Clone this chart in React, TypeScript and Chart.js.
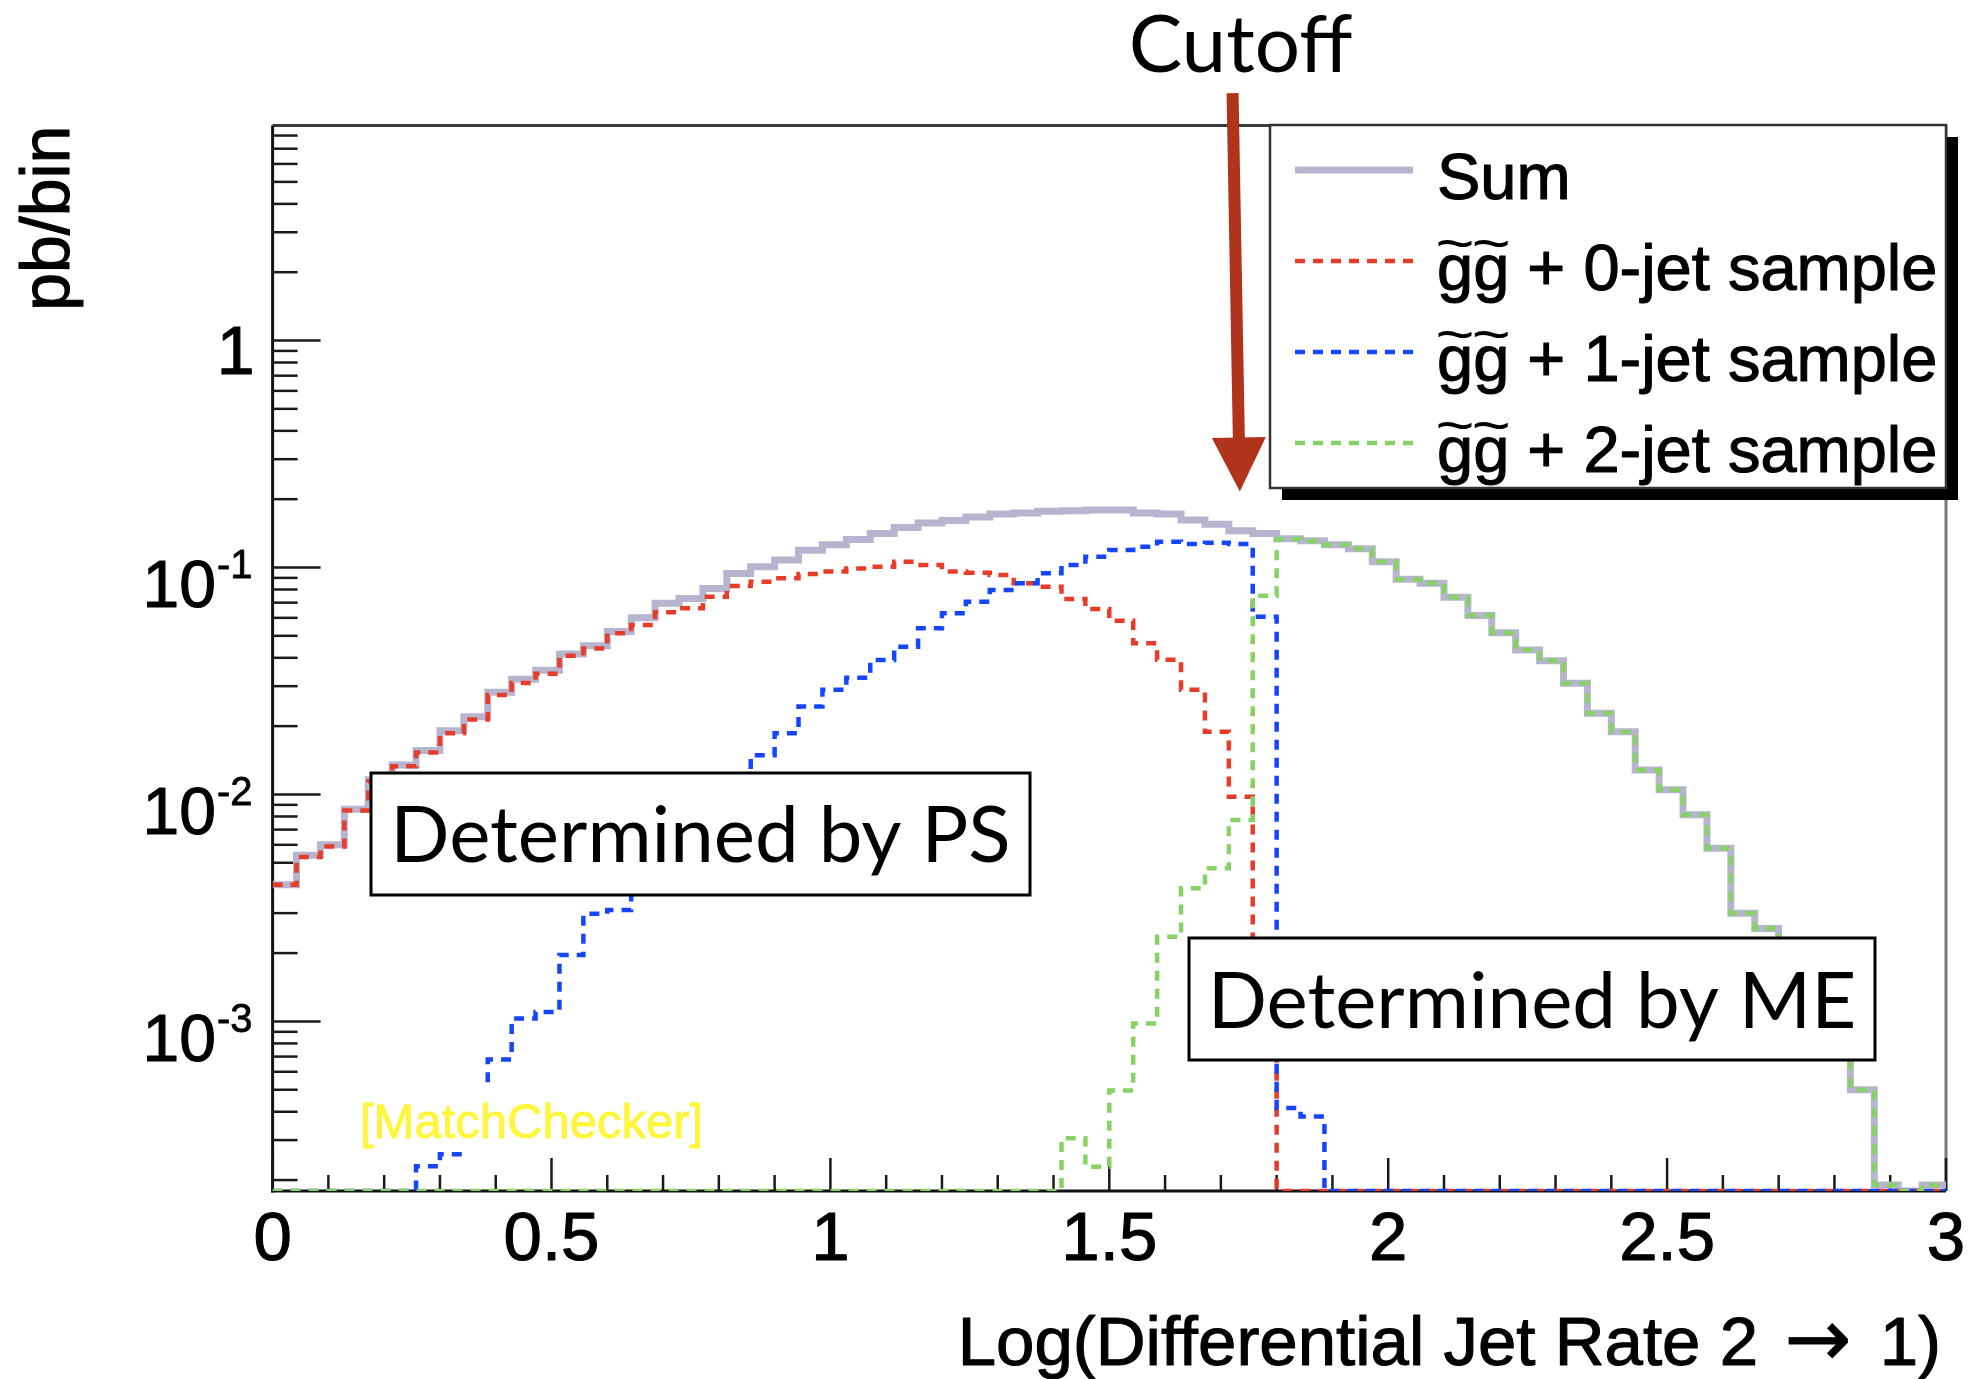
import React, { useEffect, useRef } from 'react';
import { Chart, registerables } from 'chart.js';

Chart.register(...registerables);

// ---------------- data ----------------
const X_MIN = 0;
const X_MAX = 3;
const BIN_COUNT = 70;
const Y_MIN = 1.79e-4;
const Y_MAX = 8.85;

// bin edges of the histogram (70 equal bins from 0 to 3)
const binEdges: number[] = Array.from({ length: BIN_COUNT + 1 }, (_, i) => X_MIN + (i * (X_MAX - X_MIN)) / BIN_COUNT);

const seriesLabels = ['Sum', 'g\u0303g\u0303 + 0-jet sample', 'g\u0303g\u0303 + 1-jet sample', 'g\u0303g\u0303 + 2-jet sample'];

const sumValues = [
  0.0040, 0.0054, 0.0060, 0.0086, 0.0116, 0.0135, 0.0156, 0.0191, 0.0220, 0.0282,
  0.0322, 0.0353, 0.0416, 0.0452, 0.0522, 0.0601, 0.0695, 0.0731, 0.0809, 0.0942,
  0.1008, 0.108, 0.119, 0.126, 0.133, 0.141, 0.150, 0.157, 0.161, 0.167,
  0.172, 0.174, 0.177, 0.178, 0.179, 0.179, 0.174, 0.172, 0.162, 0.155,
  0.145, 0.141, 0.134, 0.131, 0.126, 0.121, 0.106, 0.0887, 0.0852, 0.0739,
  0.0614, 0.0516, 0.0433, 0.0388, 0.0309, 0.0228, 0.0189, 0.0128, 0.0105, 0.00813,
  0.00579, 0.0030, 0.00257, 0.0019, 0.0013, 0.0009, 0.0005, 0.00019, 0, 0.00019,
];

const jet0Values = [
  0.0040, 0.0053, 0.0059, 0.0085, 0.0114, 0.0133, 0.0153, 0.0186, 0.0214, 0.0274,
  0.0310, 0.0340, 0.0408, 0.0440, 0.0513, 0.0558, 0.0635, 0.0661, 0.0743, 0.0829,
  0.0866, 0.0896, 0.0936, 0.0959, 0.0991, 0.1008, 0.106, 0.1026, 0.0959, 0.0948,
  0.0927, 0.0852, 0.0823, 0.0726, 0.0656, 0.0583, 0.0464, 0.0392, 0.0289, 0.0189,
  0.00977, 0.0012, 0, 0, 0, 0, 0, 0, 0, 0,
  0, 0, 0, 0, 0, 0, 0, 0, 0, 0,
  0, 0, 0, 0, 0, 0, 0, 0, 0, 0,
];

const jet1Values = [
  0, 0, 0, 0, 0, 0, 0.00023, 0.00026, 0.00033, 0.00068,
  0.00103, 0.00110, 0.00196, 0.00298, 0.00310, 0.0042, 0.0058, 0.0075, 0.0095, 0.0120,
  0.0149, 0.0186, 0.0244, 0.0289, 0.0327, 0.0391, 0.0448, 0.054, 0.0629, 0.0707,
  0.0796, 0.0852, 0.0943, 0.1026, 0.1116, 0.1194, 0.1235, 0.130, 0.127, 0.1286,
  0.127, 0.0607, 0.000415, 0.000381, 0, 0, 0, 0, 0, 0,
  0, 0, 0, 0, 0, 0, 0, 0, 0, 0,
  0, 0, 0, 0, 0, 0, 0, 0, 0, 0,
];

const jet2Values = [
  0, 0, 0, 0, 0, 0, 0, 0, 0, 0,
  0, 0, 0, 0, 0, 0, 0, 0, 0, 0,
  0, 0, 0, 0, 0, 0, 0, 0, 0, 0,
  0, 0, 0, 0.000306, 0.000229, 0.000496, 0.00098, 0.00236, 0.00386, 0.00473,
  0.00772, 0.0751, 0.1336, 0.1306, 0.126, 0.121, 0.106, 0.0887, 0.0852, 0.0739,
  0.0614, 0.0516, 0.0433, 0.0388, 0.0309, 0.0228, 0.0189, 0.0128, 0.0105, 0.00813,
  0.00579, 0.0030, 0.00257, 0.0019, 0.0013, 0.0009, 0.0005, 0.00019, 0, 0.00019,
];

const xTickValues = [0, 0.5, 1, 1.5, 2, 2.5, 3];
const xTickLabels = ['0', '0.5', '1', '1.5', '2', '2.5', '3'];
const yTickValues = [0.001, 0.01, 0.1, 1];
const yTickBases = ['10', '10', '10', '1'];
const yTickExponents = ['-3', '-2', '-1', ''];

const xTitleParts = ['Log(Differential Jet Rate 2', '\u2192', '1)'];
const yTitle = 'pb/bin';
const cutoffLabel = 'Cutoff';
const psLabel = 'Determined by PS';
const meLabel = 'Determined by ME';
const checkerLabel = '[MatchChecker]';

// cutoff arrow in data coordinates
const arrowTop = { x: 1.721, y: 12.3 };
const arrowTip = { x: 1.734, y: 0.216 };

// ---------------- styles ----------------
const SUM_COLOR = '#B6B4CE';
const RED = '#E63C28';
const BLUE = '#1446FF';
const GREEN = '#86D264';
const ARROW_COLOR = '#B0341C';
const DASH = [10, 8];
const AXIS_FONT = '"Liberation Sans", Arial, Helvetica, sans-serif';
const NOTE_FONT = 'Lato, "Open Sans", sans-serif';

const toPoints = (vals: number[]) =>
  binEdges.map((x, i) => {
    const v = vals[Math.min(i, vals.length - 1)];
    return { x, y: v > 0 ? v : Y_MIN };
  });

// helvetica-like text slightly thickened (ROOT raster look)
function boldText(ctx: CanvasRenderingContext2D, s: string, x: number, y: number, w = 1.1) {
  ctx.fillText(s, x, y);
  ctx.save();
  ctx.lineWidth = w;
  ctx.strokeStyle = ctx.fillStyle as string;
  ctx.lineJoin = 'round';
  ctx.strokeText(s, x, y);
  ctx.restore();
}

// text with combining tildes drawn as ROOT-style wide tildes
function tildeText(ctx: CanvasRenderingContext2D, s: string, x: number, y: number) {
  const plain = s.replace(/\u0303/g, '');
  ctx.textAlign = 'left';
  boldText(ctx, plain, x, y);
  let prefix = '';
  for (let i = 0; i < s.length; i++) {
    const ch = s[i];
    if (ch === '\u0303') continue;
    if (s[i + 1] === '\u0303') {
      const x0 = x + ctx.measureText(prefix).width;
      const w = ctx.measureText(ch).width;
      const saved = ctx.font;
      ctx.save();
      ctx.font = `58px ${AXIS_FONT}`;
      ctx.textAlign = 'center';
      ctx.translate(x0 + w / 2, y - 27);
      ctx.scale(1.15, 1);
      ctx.fillText('~', 0, 0);
      ctx.restore();
      ctx.font = saved;
    }
    prefix += ch;
  }
}

const rootStyle = {
  id: 'rootStyle',
  beforeDraw(chart: any) {
    const ctx = chart.ctx;
    ctx.save();
    ctx.fillStyle = '#ffffff';
    ctx.fillRect(0, 0, chart.width, chart.height);
    ctx.restore();
  },
  beforeDatasetsDraw(chart: any) {
    const ctx = chart.ctx;
    const xs = chart.scales.x;
    const ys = chart.scales.y;
    const L = xs.left, R = xs.right, T = ys.top, B = ys.bottom;
    ctx.save();
    ctx.lineWidth = 3;
    ctx.strokeStyle = '#3c3c3c';
    ctx.beginPath(); ctx.moveTo(L, T); ctx.lineTo(R, T); ctx.stroke();
    ctx.strokeStyle = '#7a7a7a';
    ctx.beginPath(); ctx.moveTo(R, T); ctx.lineTo(R, B); ctx.stroke();
    ctx.strokeStyle = '#111';
    ctx.beginPath(); ctx.moveTo(L, T); ctx.lineTo(L, B + 1.5); ctx.stroke();
    ctx.beginPath(); ctx.moveTo(L - 1.5, B); ctx.lineTo(R, B); ctx.stroke();
    ctx.lineWidth = 2.5;
    ctx.strokeStyle = '#1a1a1a';
    for (let i = 0; i <= 30; i++) {
      const px = xs.getPixelForValue(i / 10);
      const major = i % 5 === 0;
      ctx.beginPath();
      ctx.moveTo(px, B);
      ctx.lineTo(px, B - (major ? 33 : 16));
      ctx.stroke();
    }
    for (let d = -4; d <= 0; d++) {
      for (let m = 1; m <= 9; m++) {
        const v = m * Math.pow(10, d);
        if (v < Y_MIN || v > Y_MAX) continue;
        const py = ys.getPixelForValue(v);
        ctx.beginPath();
        ctx.moveTo(L, py);
        ctx.lineTo(L + (m === 1 ? 48 : 25), py);
        ctx.stroke();
      }
    }
    ctx.restore();
  },
  afterDatasetsDraw(chart: any) {
    const ctx = chart.ctx;
    const xs = chart.scales.x;
    const ys = chart.scales.y;
    const L = xs.left, R = xs.right, T = ys.top, B = ys.bottom;
    ctx.save();
    ctx.textBaseline = 'alphabetic';

    // [MatchChecker] label with white pave
    ctx.fillStyle = '#ffffff';
    ctx.fillRect(355, 1088, 352, 63);
    ctx.fillStyle = '#FFF53A';
    ctx.font = `49px ${AXIS_FONT}`;
    ctx.textAlign = 'left';
    boldText(ctx, checkerLabel, 360, 1138, 0.8);

    // annotation boxes
    const box = (x: number, y: number, w: number, h: number, text: string, baseline: number) => {
      ctx.fillStyle = '#ffffff';
      ctx.fillRect(x, y, w, h);
      ctx.lineWidth = 3;
      ctx.strokeStyle = '#000';
      ctx.strokeRect(x, y, w, h);
      ctx.fillStyle = '#000';
      ctx.font = `78px ${NOTE_FONT}`;
      ctx.textAlign = 'center';
      ctx.fillText(text, x + w / 2, baseline);
    };
    box(371, 773, 659, 122, psLabel, 862);
    box(1189, 938, 686, 122, meLabel, 1028);

    // legend
    const lx = 1270, ly = 125, lw = 676, lh = 363;
    ctx.fillStyle = '#000';
    ctx.fillRect(lx + 12, ly + 12, lw, lh);
    ctx.fillStyle = '#fff';
    ctx.fillRect(lx, ly, lw, lh);
    ctx.lineWidth = 2.5;
    ctx.strokeStyle = '#333';
    ctx.strokeRect(lx, ly, lw, lh);
    const rows = [170, 261, 352, 443];
    chart.data.datasets.forEach((ds: any, i: number) => {
      const y = rows[i];
      ctx.save();
      ctx.strokeStyle = ds.borderColor;
      ctx.lineWidth = ds.borderWidth;
      ctx.setLineDash(ds.borderDash || []);
      ctx.beginPath();
      ctx.moveTo(1295, y);
      ctx.lineTo(1413, y);
      ctx.stroke();
      ctx.restore();
      ctx.fillStyle = '#000';
      ctx.font = `65px ${AXIS_FONT}`;
      tildeText(ctx, ds.label, 1437, y + 29);
    });

    // cutoff arrow
    const tx = xs.getPixelForValue(arrowTop.x), ty = ys.getPixelForValue(arrowTop.y);
    const hx = xs.getPixelForValue(arrowTip.x), hy = ys.getPixelForValue(arrowTip.y);
    const headLen = 54, headHalf = 27;
    const dx = hx - tx, dy = hy - ty;
    const len = Math.hypot(dx, dy);
    const ux = dx / len, uy = dy / len;
    const bx = hx - ux * headLen, by = hy - uy * headLen;
    ctx.strokeStyle = ARROW_COLOR;
    ctx.lineWidth = 12;
    ctx.lineCap = 'butt';
    ctx.beginPath();
    ctx.moveTo(tx, ty);
    ctx.lineTo(bx + ux * 4, by + uy * 4);
    ctx.stroke();
    ctx.fillStyle = ARROW_COLOR;
    ctx.beginPath();
    ctx.moveTo(hx, hy);
    ctx.lineTo(bx - uy * headHalf, by + ux * headHalf);
    ctx.lineTo(bx + uy * headHalf, by - ux * headHalf);
    ctx.closePath();
    ctx.fill();
    ctx.fillStyle = '#000';
    ctx.font = `80px ${NOTE_FONT}`;
    ctx.textAlign = 'center';
    ctx.fillText(cutoffLabel, tx + 8, 72);

    // x tick labels
    ctx.fillStyle = '#000';
    ctx.font = `69px ${AXIS_FONT}`;
    ctx.textAlign = 'center';
    xTickValues.forEach((v, i) => {
      boldText(ctx, xTickLabels[i], xs.getPixelForValue(v), B + 69);
    });

    // y tick labels
    const right = L - 20;
    ctx.textAlign = 'right';
    yTickValues.forEach((v, i) => {
      const py = ys.getPixelForValue(v);
      const exp = yTickExponents[i];
      if (exp) {
        ctx.font = `40px ${AXIS_FONT}`;
        const ew = ctx.measureText(exp).width;
        boldText(ctx, exp, right, py + 11, 0.8);
        ctx.font = `66px ${AXIS_FONT}`;
        boldText(ctx, yTickBases[i], right - ew - 1, py + 40);
      } else {
        ctx.font = `68px ${AXIS_FONT}`;
        boldText(ctx, yTickBases[i], right + 2, py + 33);
      }
    });

    // x axis title (right aligned at axis end), with a large arrow
    const base = 1365;
    ctx.textAlign = 'right';
    ctx.font = `69px ${AXIS_FONT}`;
    boldText(ctx, xTitleParts[2], R - 5, base);
    ctx.font = `80px "DejaVu Sans", ${AXIS_FONT}`;
    ctx.textAlign = 'center';
    boldText(ctx, xTitleParts[1], R - 128, base + 1, 0.8);
    ctx.font = `69px ${AXIS_FONT}`;
    ctx.textAlign = 'right';
    boldText(ctx, xTitleParts[0], R - 188, base);

    // y axis title
    ctx.save();
    ctx.translate(69, T);
    ctx.rotate(-Math.PI / 2);
    ctx.textAlign = 'right';
    ctx.font = `68px ${AXIS_FONT}`;
    boldText(ctx, yTitle, 0, 0);
    ctx.restore();

    ctx.restore();
  },
};

export default function App() {
  const ref = useRef<HTMLCanvasElement | null>(null);
  useEffect(() => {
    if (!ref.current) return;
    const common = {
      pointRadius: 0,
      pointHoverRadius: 0,
      fill: false,
      tension: 0,
      stepped: 'before' as const,
      borderJoinStyle: 'miter' as const,
      borderCapStyle: 'butt' as const,
    };
    const chart = new Chart(ref.current, {
      type: 'line',
      data: {
        datasets: [
          { ...common, label: seriesLabels[0], data: toPoints(sumValues), borderColor: SUM_COLOR, borderWidth: 7, order: 4 },
          { ...common, label: seriesLabels[1], data: toPoints(jet0Values), borderColor: RED, borderWidth: 4.5, borderDash: DASH, order: 3 },
          { ...common, label: seriesLabels[2], data: toPoints(jet1Values), borderColor: BLUE, borderWidth: 4.5, borderDash: DASH, order: 2 },
          { ...common, label: seriesLabels[3], data: toPoints(jet2Values), borderColor: GREEN, borderWidth: 4.5, borderDash: DASH, order: 1 },
        ],
      },
      options: {
        responsive: false,
        devicePixelRatio: 1,
        animation: false,
        events: [],
        layout: { padding: { left: 272.6, right: 24, top: 125.6, bottom: 188 } },
        plugins: { legend: { display: false }, tooltip: { enabled: false }, title: { display: false } },
        scales: {
          x: { type: 'linear', min: X_MIN, max: X_MAX, display: false },
          y: { type: 'logarithmic', min: Y_MIN, max: Y_MAX, display: false },
        },
      },
      plugins: [rootStyle],
    });
    return () => chart.destroy();
  }, []);
  return (
    <div style={{ position: 'fixed', left: 0, top: 0, width: 1970, height: 1379, background: '#fff' }}>
      <canvas ref={ref} width={1970} height={1379} style={{ display: 'block', width: 1970, height: 1379 }} />
    </div>
  );
}
